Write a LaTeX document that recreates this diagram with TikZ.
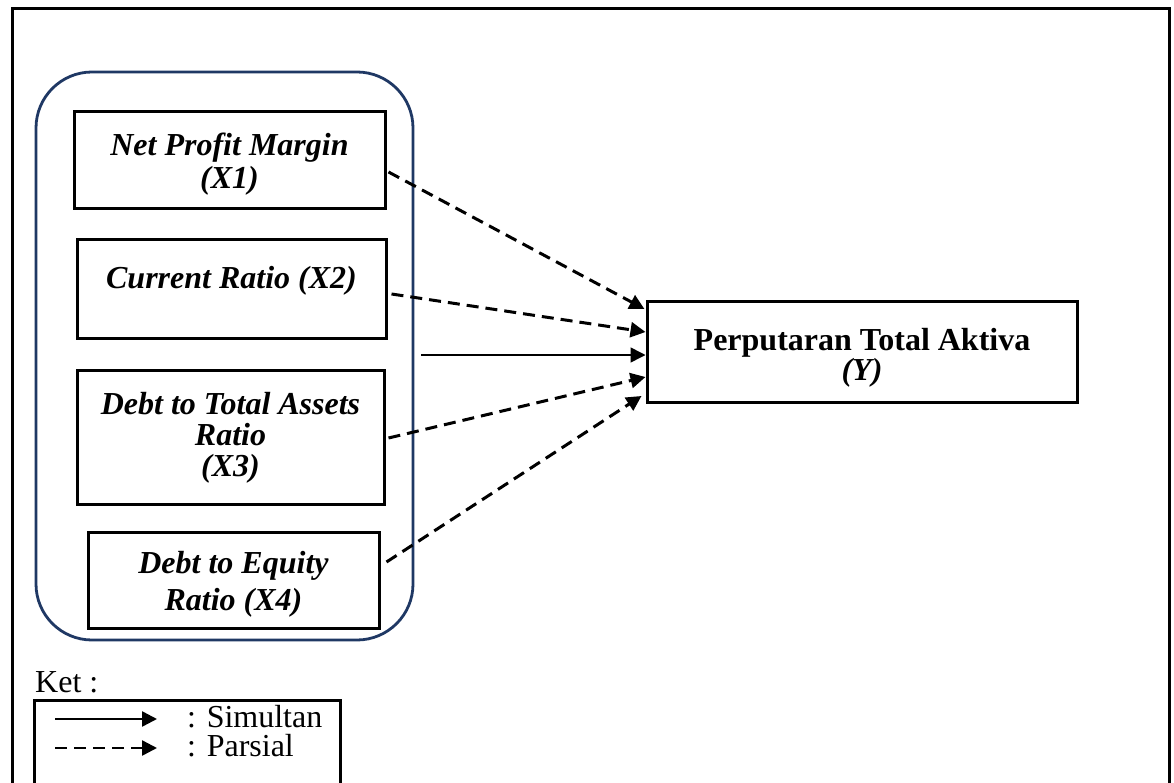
\documentclass[tikz,border=0pt]{standalone}
\usepackage{fontspec}
\setmainfont{Liberation Serif}
\usetikzlibrary{arrows.meta}
\definecolor{navy}{HTML}{1F3864}
\begin{document}
\begin{tikzpicture}[x=1pt,y=-1pt,
  frame/.style={draw, line width=3pt},
  varbox/.style={draw, line width=3pt, inner sep=0pt, align=center,
    font=\fontsize{32}{32}\selectfont\bfseries\itshape},
  vartext/.style={inner sep=0pt, align=center,
    font=\fontsize{32}{32}\selectfont\bfseries\itshape},
  group/.style={draw=navy, line width=2.8pt, rounded corners=56pt, inner sep=0pt},
  tip/.style={-{Triangle[length=15pt,width=15pt]}},
  parsial/.style={tip, line width=3pt, dash pattern=on 12pt off 7pt},
  simultan/.style={tip, line width=1.5pt},
  legtext/.style={inner sep=0pt, anchor=base west, font=\fontsize{32}{31}\selectfont}
]
\clip (0,0) rectangle (1174,783);
\fill[white] (0,0) rectangle (1174,783);
% outer frame
\draw[frame] (12,9) rectangle (1169,820);

% group container
\node[group, minimum width=377pt, minimum height=568pt] (cont) at (224.5,356) {};

% variable boxes
\node[varbox, minimum width=311pt, minimum height=97pt] (x1) at (229.5,160.5) {};
\node[vartext, font=\fontsize{32}{33}\selectfont\bfseries\itshape] (x1t) at (229.5,164)
  {Net Profit Margin\\(X1)};
\node[varbox, minimum width=309pt, minimum height=98pt] (x2) at (231.5,289) {};
\node[vartext] (x2t) at (231.5,281) {Current Ratio (X2)};
\node[varbox, minimum width=307pt, minimum height=134pt] (x3) at (230.5,437) {};
\node[vartext, font=\fontsize{32}{31}\selectfont\bfseries\itshape] (x3t) at (230.5,438)
  {Debt to Total Assets\\Ratio\\(X3)};
\node[varbox, minimum width=291pt, minimum height=96pt] (x4) at (233.5,580) {};
\node[vartext, font=\fontsize{32}{37}\selectfont\bfseries\itshape] (x4t) at (233.5,584)
  {Debt to Equity\\Ratio (X4)};
\node[draw, line width=3pt, inner sep=0pt,
  minimum width=430pt, minimum height=100pt] (y) at (862,352) {};
\node[inner sep=0pt, align=center, font=\fontsize{32}{30}\selectfont\bfseries] (yt) at (862,358)
  {Perputaran Total Aktiva\\\textit{(Y)}};

% connectors
\coordinate (s0) at (421,355);
\draw[parsial] ([xshift=2pt,yshift=-11.5pt]x1.east) -- ([xshift=-1pt,yshift=43pt]y.west);
\draw[parsial] ([xshift=4pt,yshift=-5pt]x2.east) -- ([yshift=20pt]y.west);
\draw[simultan] (s0) -- ([yshift=-3pt]y.west);
\draw[parsial] ([xshift=3pt,yshift=-1pt]x3.east) -- ([yshift=-25pt]y.west);
\draw[parsial] ([xshift=6pt,yshift=18pt]x4.east) -- ([xshift=-4pt,yshift=-44pt]y.west);

% legend
\node[legtext] (ket) at (35,692) {Ket :};
\node[frame, inner sep=0pt, minimum width=306pt, minimum height=120pt] (leg) at (187,760) {};
\coordinate (l1a) at (55,719);
\coordinate (l1b) at (157,719);
\coordinate (l2a) at (55,748);
\coordinate (l2b) at (157,748);
\draw[tip, line width=2.5pt] (l1a) -- (l1b);
\draw[tip, line width=2.5pt, dash pattern=on 12pt off 7pt] (l2a) -- (l2b);
\node[legtext] (sim) at (187,727) {: Simultan};
\node[legtext] (par) at (187,756) {: Parsial};
\end{tikzpicture}
\end{document}
